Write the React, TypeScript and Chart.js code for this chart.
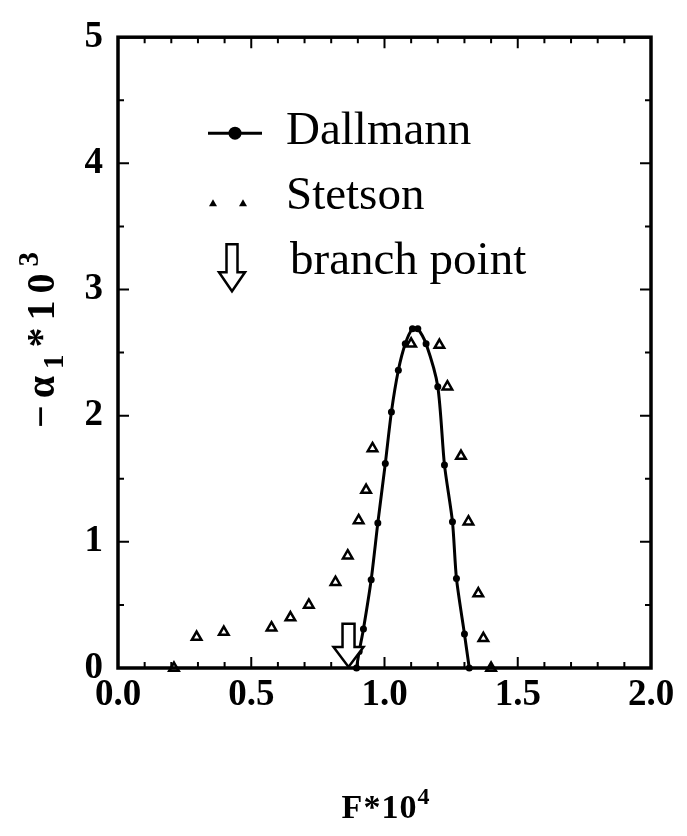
import React, { useEffect, useRef } from "react";
import { Chart, registerables } from "chart.js";

Chart.register(...registerables);

// ---- data ----
const dallmannF = [0.895, 0.905, 0.921, 0.95, 0.975, 1.003, 1.026, 1.052, 1.078, 1.105, 1.125, 1.156, 1.2, 1.225, 1.255, 1.27, 1.3, 1.318];
const dallmannAlpha = [0.0, 0.13, 0.31, 0.7, 1.15, 1.62, 2.03, 2.36, 2.57, 2.69, 2.69, 2.57, 2.23, 1.61, 1.16, 0.71, 0.27, 0.0];

const stetsonF = [0.21, 0.295, 0.397, 0.576, 0.647, 0.716, 0.816, 0.862, 0.903, 0.931, 0.955, 1.1, 1.206, 1.236, 1.287, 1.315, 1.352, 1.371, 1.4];
const stetsonAlpha = [0.0, 0.245, 0.285, 0.32, 0.4, 0.5, 0.68, 0.89, 1.17, 1.41, 1.74, 2.57, 2.56, 2.23, 1.68, 1.16, 0.59, 0.235, 0.0];

const branchF = [0.865];
const branchTopAlpha = [0.35];

const xTickValues = [0, 0.5, 1.0, 1.5, 2.0];
const xTickLabels = ["0.0", "0.5", "1.0", "1.5", "2.0"];
const yTickValues = [0, 1, 2, 3, 4, 5];
const yTickLabels = ["0", "1", "2", "3", "4", "5"];
const legendLabels = ["Dallmann", "Stetson", "branch point"];

const LEGEND_FONT = "47px 'Liberation Serif'";

type Part = { t: string; kind?: "sub" | "sup" };

function drawRich(ctx: CanvasRenderingContext2D, parts: Part[], cx: number, cy: number, size: number, gap: number) {
  const fontMain = `bold ${size}px 'Liberation Serif'`;
  const fontSmall = `bold ${Math.round(size * 0.72)}px 'Liberation Serif'`;
  // split into characters with gap spacing
  const glyphs: { c: string; kind?: "sub" | "sup"; w: number }[] = [];
  for (const p of parts) {
    ctx.font = p.kind ? fontSmall : fontMain;
    for (const c of Array.from(p.t)) {
      glyphs.push({ c, kind: p.kind, w: ctx.measureText(c).width });
    }
  }
  let total = 0;
  glyphs.forEach((g, i) => {
    total += g.w + (i < glyphs.length - 1 ? gap : 0);
  });
  let x = cx - total / 2;
  ctx.textBaseline = "alphabetic";
  ctx.textAlign = "left";
  const base = cy + size * 0.34;
  glyphs.forEach((g) => {
    ctx.font = g.kind ? fontSmall : fontMain;
    let y = base;
    if (g.kind === "sub") y = base + size * 0.24;
    if (g.kind === "sup") y = base - size * 0.4;
    ctx.fillText(g.c, x, y);
    x += g.w + gap;
  });
}

function hollowArrow(ctx: CanvasRenderingContext2D, cx: number, top: number, bottom: number, shaftW: number, headW: number, headH: number, lw: number) {
  ctx.beginPath();
  ctx.moveTo(cx - shaftW / 2, top);
  ctx.lineTo(cx + shaftW / 2, top);
  ctx.lineTo(cx + shaftW / 2, bottom - headH);
  ctx.lineTo(cx + headW / 2, bottom - headH);
  ctx.lineTo(cx, bottom);
  ctx.lineTo(cx - headW / 2, bottom - headH);
  ctx.lineTo(cx - shaftW / 2, bottom - headH);
  ctx.closePath();
  ctx.fillStyle = "#fff";
  ctx.fill();
  ctx.lineWidth = lw;
  ctx.strokeStyle = "#000";
  ctx.lineJoin = "miter";
  ctx.stroke();
}

const decorPlugin = {
  id: "decor",
  afterDatasetsDraw(chart: any) {
    const ctx: CanvasRenderingContext2D = chart.ctx;
    const xs = chart.scales.x;
    const ys = chart.scales.y;
    ctx.save();
    branchF.forEach((f, i) => {
      const cx = xs.getPixelForValue(f);
      const top = ys.getPixelForValue(branchTopAlpha[i]);
      const bottom = ys.getPixelForValue(0) - 1;
      hollowArrow(ctx, cx, top, bottom, 12, 30, 20, 2.5);
    });
    ctx.restore();
  },
  afterDraw(chart: any) {
    const ctx: CanvasRenderingContext2D = chart.ctx;
    const { left, right, top, bottom } = chart.chartArea;
    const xs = chart.scales.x;
    const ys = chart.scales.y;
    ctx.save();
    ctx.strokeStyle = "#000";
    ctx.lineWidth = 2;
    for (let i = 0; i <= 20; i++) {
      const px = xs.getPixelForValue(i / 10);
      const len = i % 5 === 0 ? 11 : 6;
      ctx.beginPath();
      ctx.moveTo(px, bottom);
      ctx.lineTo(px, bottom - len);
      ctx.moveTo(px, top);
      ctx.lineTo(px, top + len);
      ctx.stroke();
    }
    for (let i = 0; i <= 10; i++) {
      const py = ys.getPixelForValue(i / 2);
      const len = i % 2 === 0 ? 11 : 6;
      ctx.beginPath();
      ctx.moveTo(left, py);
      ctx.lineTo(left + len, py);
      ctx.moveTo(right, py);
      ctx.lineTo(right - len, py);
      ctx.stroke();
    }
    ctx.lineWidth = 3.5;
    ctx.strokeRect(left, top, right - left, bottom - top);

    ctx.fillStyle = "#000";
    drawRich(ctx, [{ t: "F*10" }, { t: "4", kind: "sup" }], (left + right) / 2 + 1, 806, 34, 1);
    ctx.save();
    ctx.translate(40, 340);
    ctx.rotate(-Math.PI / 2);
    drawRich(ctx, [{ t: "−α" }, { t: "1", kind: "sub" }, { t: "*10" }, { t: "3", kind: "sup" }], 0, 0, 40, 7);
    ctx.restore();

    // legend
    const lx = left + 92;
    const tx = left + 168;
    ctx.font = LEGEND_FONT;
    ctx.textAlign = "left";
    ctx.textBaseline = "alphabetic";
    ctx.lineWidth = 3;
    ctx.beginPath();
    ctx.moveTo(lx - 2, top + 96);
    ctx.lineTo(lx + 52, top + 96);
    ctx.stroke();
    ctx.beginPath();
    ctx.arc(lx + 25, top + 96, 6.5, 0, Math.PI * 2);
    ctx.fill();
    ctx.fillText(legendLabels[0], tx, top + 107);
    [lx + 3, lx + 33].forEach((x) => {
      ctx.beginPath();
      ctx.moveTo(x, top + 162);
      ctx.lineTo(x + 4, top + 169);
      ctx.lineTo(x - 4, top + 169);
      ctx.closePath();
      ctx.fillStyle = "#000";
      ctx.fill();
    });
    ctx.fillText(legendLabels[1], tx, top + 172);
    hollowArrow(ctx, lx + 22, top + 207, top + 254, 11, 26, 19, 2.5);
    ctx.fillStyle = "#000";
    ctx.font = LEGEND_FONT;
    ctx.fillText(legendLabels[2], tx + 4, top + 237);
    ctx.restore();
  },
};

export default function App() {
  const ref = useRef<HTMLCanvasElement | null>(null);
  useEffect(() => {
    if (!ref.current) return;
    const chart = new Chart(ref.current, {
      type: "scatter",
      data: {
        datasets: [
          {
            label: legendLabels[0],
            data: dallmannF.map((x, i) => ({ x, y: dallmannAlpha[i] })),
            showLine: true,
            borderColor: "#000",
            borderWidth: 3,
            tension: 0.25,
            pointRadius: 3.5,
            pointBackgroundColor: "#000",
            pointBorderColor: "#000",
            pointBorderWidth: 0,
            clip: false,
          } as any,
          {
            label: legendLabels[1],
            data: stetsonF.map((x, i) => ({ x, y: stetsonAlpha[i] })),
            showLine: false,
            pointStyle: "triangle",
            pointRadius: 5.5,
            pointBackgroundColor: "#fff",
            pointBorderColor: "#000",
            pointBorderWidth: 2.5,
            clip: false,
          } as any,
        ],
      },
      options: {
        animation: false,
        responsive: false,
        events: [],
        layout: { padding: { left: 0, right: 36, top: 31, bottom: 0 } },
        plugins: { legend: { display: false }, tooltip: { enabled: false } },
        scales: {
          x: {
            type: "linear",
            min: 0,
            max: 2,
            afterFit: (s: any) => {
              s.height = 168;
            },
            afterBuildTicks: (s: any) => {
              s.ticks = xTickValues.map((v) => ({ value: v }));
            },
            ticks: {
              autoSkip: false,
              maxRotation: 0,
              padding: 5,
              color: "#000",
              font: { family: "'Liberation Serif'", weight: "bold", size: 37 },
              callback: (v: any) => xTickLabels[xTickValues.indexOf(Number(v))] ?? "",
            },
            grid: { display: false, drawTicks: false },
            border: { display: false },
          },
          y: {
            type: "linear",
            min: 0,
            max: 5,
            afterFit: (s: any) => {
              s.width = 118;
            },
            afterBuildTicks: (s: any) => {
              s.ticks = yTickValues.map((v) => ({ value: v }));
            },
            ticks: {
              autoSkip: false,
              padding: 15,
              color: "#000",
              font: { family: "'Liberation Serif'", weight: "bold", size: 37 },
              callback: (v: any) => yTickLabels[yTickValues.indexOf(Number(v))] ?? "",
            },
            grid: { display: false, drawTicks: false },
            border: { display: false },
          },
        },
      } as any,
      plugins: [decorPlugin],
    });
    return () => chart.destroy();
  }, []);
  return (
    <div style={{ position: "absolute", left: 0, top: 0, width: 687, height: 836, background: "#fff" }}>
      <canvas ref={ref} width={687} height={836} style={{ display: "block" }} />
    </div>
  );
}
